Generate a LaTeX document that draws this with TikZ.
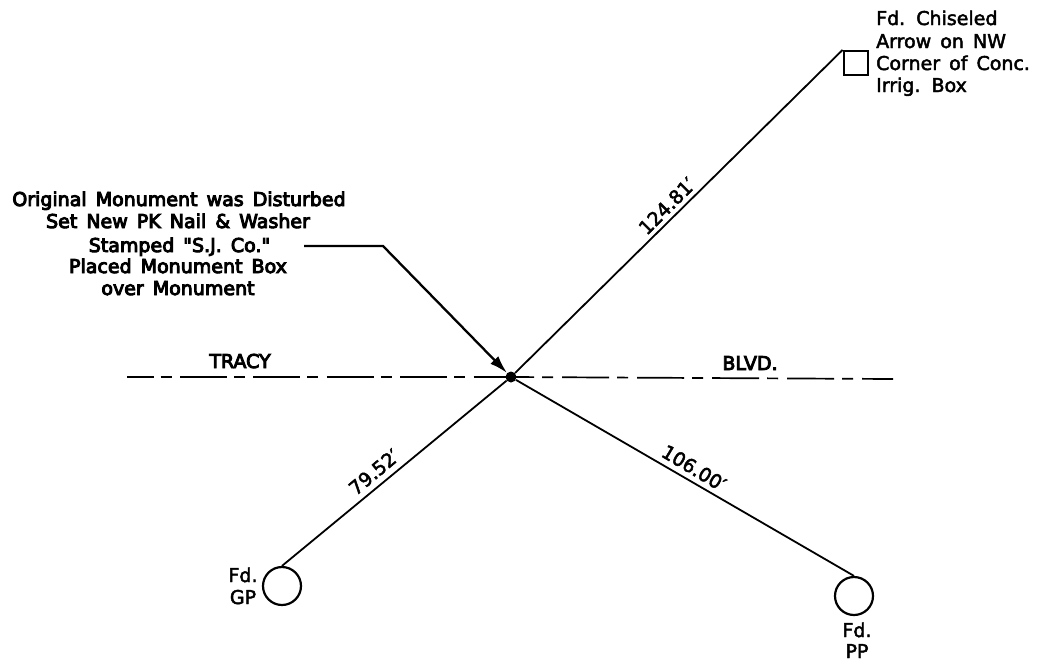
\documentclass[tikz,border=0pt]{standalone}
\usepackage{fontspec}
\setmainfont{DejaVu Sans}
\newfontfamily\boldcad[FakeBold=5,WordSpace=1.5]{DejaVu Sans}
\newfontfamily\thincad[FakeBold=2.5,WordSpace=1.5]{DejaVu Sans}
\usetikzlibrary{arrows.meta}
\tikzset{
  lbl/.style={inner sep=0pt,font=\thincad\fontsize{19}{19}\selectfont,text=black},
  blbl/.style={inner sep=0pt,font=\boldcad\fontsize{19}{19}\selectfont,text=black},
  conn/.style={draw=black,line width=1.8pt},
  mark circle/.style={circle,draw=black,line width=2.2pt,minimum size=38pt,inner sep=0pt},
  mark square/.style={rectangle,draw=black,line width=2pt,minimum size=24pt,inner sep=0pt},
  roadw style/.style={draw=black,line width=1.7pt,dash pattern=on 47pt off 7pt on 11pt off 8.4pt,dash phase=20.4pt},
  roade style/.style={draw=black,line width=1.7pt,dash pattern=on 47pt off 8pt on 11pt off 9pt,dash phase=24pt},
}
\begin{document}
\begin{tikzpicture}[x=1pt,y=-1pt]
\useasboundingbox (0,0) rectangle (1044,664);
\node[mark square] (box) at (855.5,63) {};
\node[mark circle] (gp) at (282,586) {};
\node[mark circle] (pp) at (854,596) {};
\node[circle,fill=black,minimum size=11pt,inner sep=0pt] (mon) at (511,377) {};
\coordinate (roadw) at (127,377);
\coordinate (roade) at (893,379);
\coordinate (lead) at (304,246);
\coordinate (bend) at (383,246);
\draw[roadw style] (roadw) -- (mon.center);
\draw[roade style] (mon.center) -- (roade);
\draw[conn] (mon) -- (box.north west);
\draw[conn] (mon) -- (gp.north);
\draw[conn] (mon) -- (pp.north);
\draw[conn,line width=2.3pt,-{Latex[length=18pt,width=11pt]}] (lead) -- (bend) -- (mon);
\node[blbl,anchor=base] (t1) at (179,206) {Original Monument was Disturbed};
\node[blbl,anchor=base] (t2) at (178,228) {Set New PK Nail \& Washer};
\node[blbl,anchor=base] (t3) at (179.5,252) {Stamped "S.J. Co."};
\node[blbl,anchor=base] (t4) at (178,273) {Placed Monument Box};
\node[blbl,anchor=base] (t5) at (178,295) {over Monument};
\node[blbl,anchor=base] (tracy) at (240,368) {TRACY};
\node[blbl,anchor=base] (blvd) at (750,370) {BLVD.};
\node[lbl,anchor=base west] (f1) at (876,25) {Fd. Chiseled};
\node[lbl,anchor=base west] (f2) at (876,48) {Arrow on NW};
\node[lbl,anchor=base west] (f3) at (876,70) {Corner of Conc.};
\node[lbl,anchor=base west] (f4) at (876,92) {Irrig. Box};
\node[lbl,anchor=base] (g1) at (243,582) {Fd.};
\node[lbl,anchor=base] (g2) at (243,604) {GP};
\node[lbl,anchor=base] (p1) at (857,637) {Fd.};
\node[lbl,anchor=base] (p2) at (857,658) {PP};
\node[lbl,rotate=45] (d1) at (667,206) {124.81′};
\node[lbl,rotate=40] (d2) at (374,472) {79.52′};
\node[lbl,rotate=-31] (d3) at (694,468) {106.00′};
\end{tikzpicture}
\end{document}
